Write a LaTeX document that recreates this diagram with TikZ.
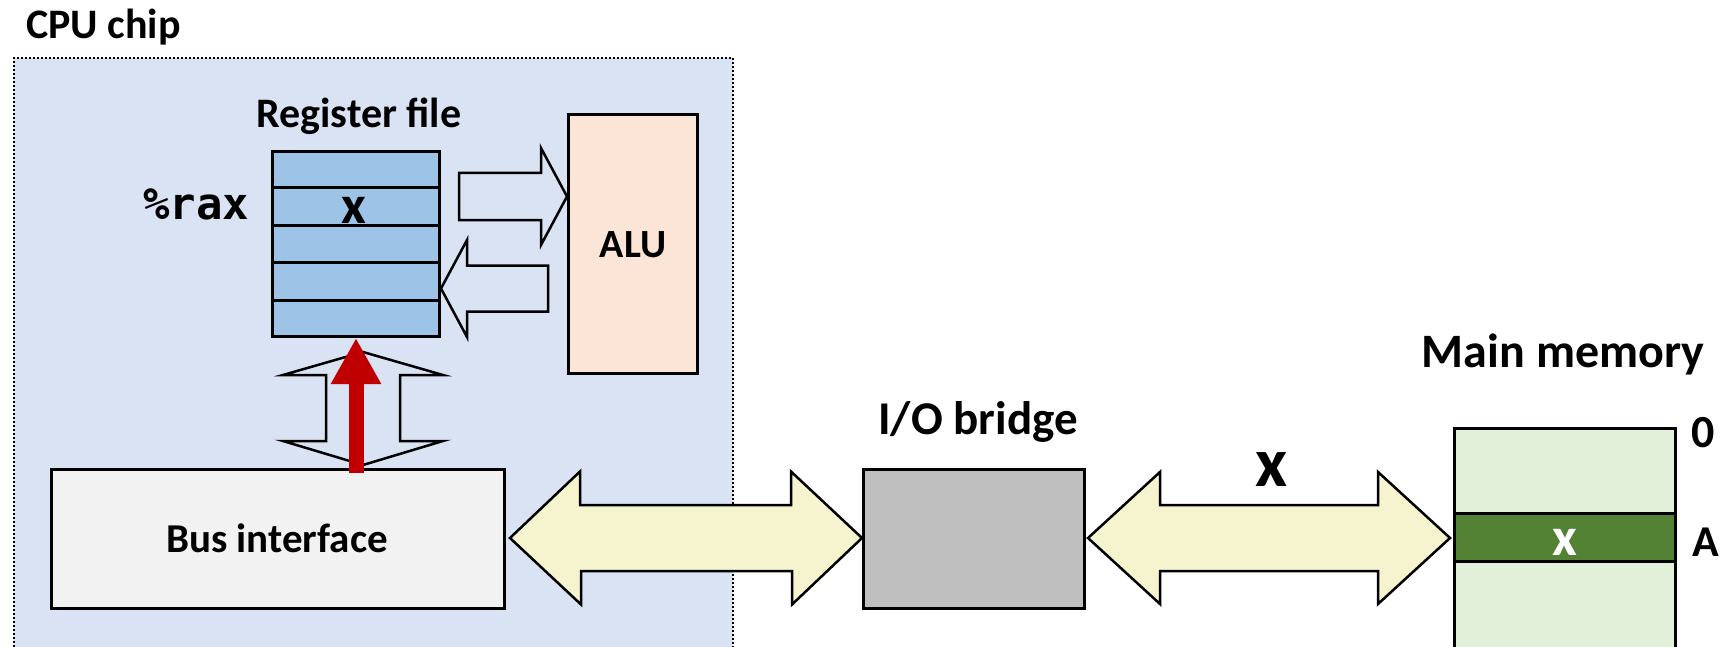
\documentclass[tikz,border=0pt]{standalone}
\usepackage{fontspec}
\setmainfont{Carlito}
\newfontfamily\monofont{DejaVu Sans Mono}
\usetikzlibrary{arrows.meta,calc}

\definecolor{chipfill}{RGB}{218,227,243}
\definecolor{regfill}{RGB}{157,195,230}
\definecolor{alufill}{RGB}{251,229,214}
\definecolor{busfill}{RGB}{242,242,242}
\definecolor{bridgefill}{RGB}{191,191,191}
\definecolor{busarrow}{RGB}{246,244,206}
\definecolor{memfill}{RGB}{226,240,217}
\definecolor{memcell}{RGB}{84,130,53}
\definecolor{darkred}{RGB}{192,0,0}

\tikzset{
  box/.style={draw=black, line width=3pt, inner sep=0pt, anchor=north west},
  hollow/.style={draw=black, line width=2.5pt, fill=chipfill, line join=miter},
  busarr/.style={draw=black, line width=2.5pt, fill=busarrow, line join=miter},
  lbl/.style={inner sep=0pt, anchor=base, font=\bfseries\fontsize{42}{50}\selectfont},
  redarrow/.style={draw=darkred, line width=15pt,
    -{Triangle[length=46pt, width=47pt, fill=darkred]}},
}

\begin{document}
\begin{tikzpicture}[x=1pt, y=-1pt]
\useasboundingbox (0,0) rectangle (1726,647);

% CPU chip outline
\node[draw=black, line width=1.8pt, dash pattern=on 1.8pt off 2.2pt, fill=chipfill,
      inner sep=0pt, anchor=north west, minimum width=719, minimum height=603]
      (chip) at (13,57) {};
\node[lbl, anchor=base west] (chiplbl) at (26,39) {CPU chip};

% register file
\node[box, fill=regfill, minimum width=167, minimum height=185] (reg) at (271,150) {};
\foreach \k in {0.2,0.4,0.6,0.8}
  \draw[line width=3pt] ($(reg.north west)!\k!(reg.south west)$) -- ($(reg.north east)!\k!(reg.south east)$);
\node[lbl] (reglbl) at (359,128) {Register file};
\node[lbl, anchor=base west, font=\monofont\bfseries\fontsize{44}{50}\selectfont] (rax) at (143,219) {\%rax};
\node[lbl, font=\bfseries\fontsize{54}{60}\selectfont] (regx) at (354,223) {x};

% ALU
\node[box, fill=alufill, minimum width=129, minimum height=259] (alu) at (567,113) {};
\node[lbl, font=\bfseries\fontsize{40}{48}\selectfont] (alulbl) at (alu.center |- 0,257) {ALU};

% register file -> ALU
\coordinate (toalu) at (alu.west |- 0,196.5);
\draw[hollow] (toalu) -- ++(-26,-48.5) -- ++(0,25) -- ++(-82,0) -- ++(0,47)
  -- ++(82,0) -- ++(0,25) -- cycle;
% ALU -> register file
\coordinate (toreg) at (reg.east |- 0,288.5);
\draw[hollow] (toreg) -- ++(26,-48.5) -- ++(0,25.5) -- ++(81,0) -- ++(0,46)
  -- ++(-81,0) -- ++(0,25.5) -- cycle;

% bus interface
\node[box, fill=busfill, minimum width=453, minimum height=139] (bus) at (50,468) {};
\node[lbl, font=\bfseries\fontsize{41}{48}\selectfont] (buslbl) at (277,552) {Bus interface};

% bus interface <-> register file
\coordinate (vtop) at (363,352);
\draw[hollow] (vtop) -- ++(80,23) -- ++(-43,0) -- ++(0,66) -- ++(43,0) -- ++(-80,24)
  -- ++(-80,-24) -- ++(43,0) -- ++(0,-66) -- ++(-43,0) -- cycle;
\coordinate (redtail) at (reg.south |- 0,473);
\draw[redarrow] (redtail) -- (reg.south);

% I/O bridge
\node[box, fill=bridgefill, minimum width=221, minimum height=139] (bridge) at (862,468) {};
\node[lbl, font=\bfseries\fontsize{47}{54}\selectfont] (bridgelbl) at (978,434) {I/O bridge};

% system bus
\coordinate (sysl) at (510,538);
\draw[busarr] (sysl) -- ++(70,-66.5) -- ++(0,33.5) -- ++(211,0) -- ++(0,-33.5)
  -- (bridge.west |- sysl) -- ++(-70,66.5) -- ++(0,-33.5) -- ++(-211,0) -- ++(0,33.5) -- cycle;

% memory bus
\coordinate (meml) at (bridge.east |- 0,538);
\draw[busarr] (meml) ++(2,0) -- ++(72,-66) -- ++(0,33) -- ++(218,0) -- ++(0,-33)
  -- ++(72,66) -- ++(-72,66) -- ++(0,-33) -- ++(-218,0) -- ++(0,33) -- cycle;
\node[lbl, font=\bfseries\fontsize{70}{76}\selectfont] (busx) at (1272,486) {x};

% main memory
\node[box, fill=memfill, minimum width=221, minimum height=233] (mem) at (1453,427) {};
\node[box, fill=memcell, minimum width=221, minimum height=48] (cell) at (1453,512) {};
\node[lbl, text=white, font=\bfseries\fontsize{54}{60}\selectfont] (cellx) at (cell.center |- 0,555) {x};
\node[lbl, font=\bfseries\fontsize{48}{54}\selectfont] (memlbl) at (1563,367) {Main memory};
\node[lbl, anchor=base west, font=\bfseries\fontsize{46}{52}\selectfont] (addr0) at (1691,447) {0};
\node[lbl, anchor=base west, font=\bfseries\fontsize{44}{52}\selectfont] (addrA) at (1692,556) {A};
\end{tikzpicture}
\end{document}
